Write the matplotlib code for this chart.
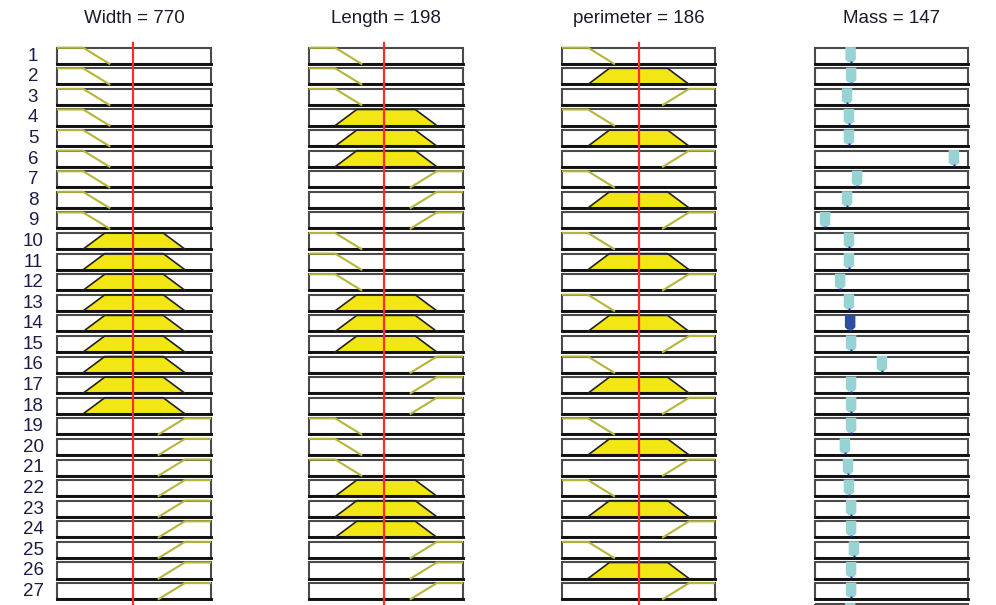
import numpy as np
import matplotlib
matplotlib.use("Agg")
import matplotlib.pyplot as plt
from matplotlib.patches import Rectangle, Polygon
from matplotlib.transforms import blended_transform_factory

plt.rcParams['font.family'] = ['Liberation Sans', 'DejaVu Sans']

# ---- fuzzy system description -------------------------------------------
input_names = ["Width", "Length", "perimeter"]
input_ranges = [(400, 1150), (100, 300), (0, 372)]
input_values = [770, 198, 186]

output_name = "Mass"
output_range = (0, 640)
output_value = 147

# membership functions (breakpoints as fraction of the input range)
mf_x = {
    "low":    [0.0, 0.17, 0.34],
    "medium": [0.17, 0.31, 0.69, 0.83],
    "high":   [0.66, 0.83, 1.0],
}
mf_y = {
    "low":    [1, 1, 0],
    "medium": [0, 1, 1, 0],
    "high":   [0, 1, 1],
}

# rule antecedents (MF name used by each rule for each input)
rule_width = ["low"] * 9 + ["medium"] * 9 + ["high"] * 9
rule_length = (["low"] * 3 + ["medium"] * 3 + ["high"] * 3) * 3
rule_perimeter = ["low", "medium", "high"] * 9
rule_inputs = [rule_width, rule_length, rule_perimeter]

# constant (Sugeno) rule outputs for Mass; last entry is the aggregate
rule_mass = [149, 151, 134, 142, 142, 581, 176, 134, 42,
             142, 142, 105, 142, 147, 151, 280, 151, 151,
             151, 125, 138, 142, 151, 151, 163, 151, 151, 147]

n_rules = len(rule_width)

# ---- layout -------------------------------------------------------------
W, H = 996, 605
fig = plt.figure(figsize=(W / 100, H / 100), dpi=100)
fig.patch.set_facecolor("white")

row0_px = 47.7
pitch_px = 20.59
box_h = 0.78
y_top = -row0_px / pitch_px
y_bot = (H - row0_px) / pitch_px

col_px = [(57, 211), (309, 463), (562, 715), (815, 968)]

edge_col = "#4a4a4a"
mf_line_col = "#b5b53a"
fill_col = "#f2e614"
red_col = "#ff2a2a"
teal_col = "#98d3d3"
fired_col = "#2c4ea2"
dot_col = "#1a2ab8"
label_col = "#1c1c48"


def make_axes(c, xr):
    l, r = col_px[c]
    ax = fig.add_axes([l / W, 0, (r - l) / W, 1])
    ax.set_xlim(*xr)
    ax.set_ylim(y_bot, y_top)
    ax.axis("off")
    return ax


def draw_box(ax, xr, r):
    top = r
    bot = r + box_h
    ax.add_patch(Rectangle((xr[0], top), xr[1] - xr[0], box_h,
                           facecolor="white", edgecolor="none",
                           zorder=1, clip_on=False))
    ax.add_patch(Rectangle((xr[0], top), xr[1] - xr[0], box_h,
                           facecolor="none", edgecolor=edge_col,
                           linewidth=1.5, zorder=2, clip_on=False))
    ax.plot([xr[0], xr[1]], [bot, bot], color="#111111", lw=2.1,
            zorder=2.1, clip_on=False, solid_capstyle="projecting")


def mu(name, frac):
    xs = [0.0] + mf_x[name] + [1.0]
    ys = [mf_y[name][0]] + mf_y[name] + [mf_y[name][-1]]
    return float(np.interp(frac, xs, ys))


# ---- input columns ------------------------------------------------------
for c in range(3):
    xr = input_ranges[c]
    span = xr[1] - xr[0]
    ax = make_axes(c, xr)
    val = input_values[c]
    vfrac = (val - xr[0]) / span
    for i in range(n_rules):
        r = i
        draw_box(ax, xr, r)
        name = rule_inputs[c][i]
        xs = np.array(mf_x[name]) * span + xr[0]
        ys = np.array(mf_y[name], dtype=float)
        level = mu(name, vfrac)
        bot = r + box_h
        py = bot - ys * box_h
        if level > 0:
            clipped = np.minimum(ys, level)
            cy = bot - clipped * box_h
            poly = np.column_stack([xs, cy])
            ax.add_patch(Polygon(poly, closed=True, facecolor=fill_col,
                                 edgecolor="none", zorder=1.5))
            ax.plot(xs, py, color="#222222", lw=1.2, zorder=3,
                    solid_joinstyle="round")
        else:
            ax.plot(xs, py, color=mf_line_col, lw=1.5, zorder=3)
    ax.plot([val, val], [-0.22, y_bot], color=red_col, lw=1.6,
            zorder=4, clip_on=False)
    ax.text((xr[0] + xr[1]) / 2, (19 - row0_px) / pitch_px,
            f"{input_names[c]} = {val}", ha="center", va="center",
            fontsize=13.5, color="#1a1a2a")

# row numbers
ax0 = fig.axes[0]
tr = blended_transform_factory(fig.transFigure, ax0.transData)
for i in range(n_rules):
    ax0.text(33 / W, i + box_h / 2 + 0.02, str(i + 1), transform=tr,
             ha="center", va="center", fontsize=13.5, color=label_col,
             clip_on=False)

# ---- output column ------------------------------------------------------
xr = output_range
span = xr[1] - xr[0]
ax = make_axes(3, xr)
bar_w = 10.5 / (col_px[3][1] - col_px[3][0]) * span

for i, v in enumerate(rule_mass):
    r = i
    draw_box(ax, xr, r)
    if i < n_rules:
        strength = min(mu(rule_inputs[k][i],
                          (input_values[k] - input_ranges[k][0]) /
                          (input_ranges[k][1] - input_ranges[k][0]))
                       for k in range(3))
    else:
        strength = 1.0
    color = fired_col if (i < n_rules and strength > 0) else teal_col
    top = r - 0.03
    y1 = r + 0.58
    y2 = r + 0.70
    pts = [(v - bar_w / 2, top), (v + bar_w / 2, top),
           (v + bar_w / 2, y1), (v + bar_w / 4, y2),
           (v - bar_w / 4, y2), (v - bar_w / 2, y1)]
    ax.add_patch(Polygon(pts, closed=True, facecolor=color,
                         edgecolor="none", zorder=3, clip_on=False))
    ax.plot([v], [y2], marker="s", ms=2.0, color=dot_col,
            mec="none", zorder=3.5, clip_on=False)

ax.text((xr[0] + xr[1]) / 2, (19 - row0_px) / pitch_px,
        f"{output_name} = {output_value}", ha="center", va="center",
        fontsize=13.5, color="#1a1a2a")

fig.savefig("out.png", dpi=100)
